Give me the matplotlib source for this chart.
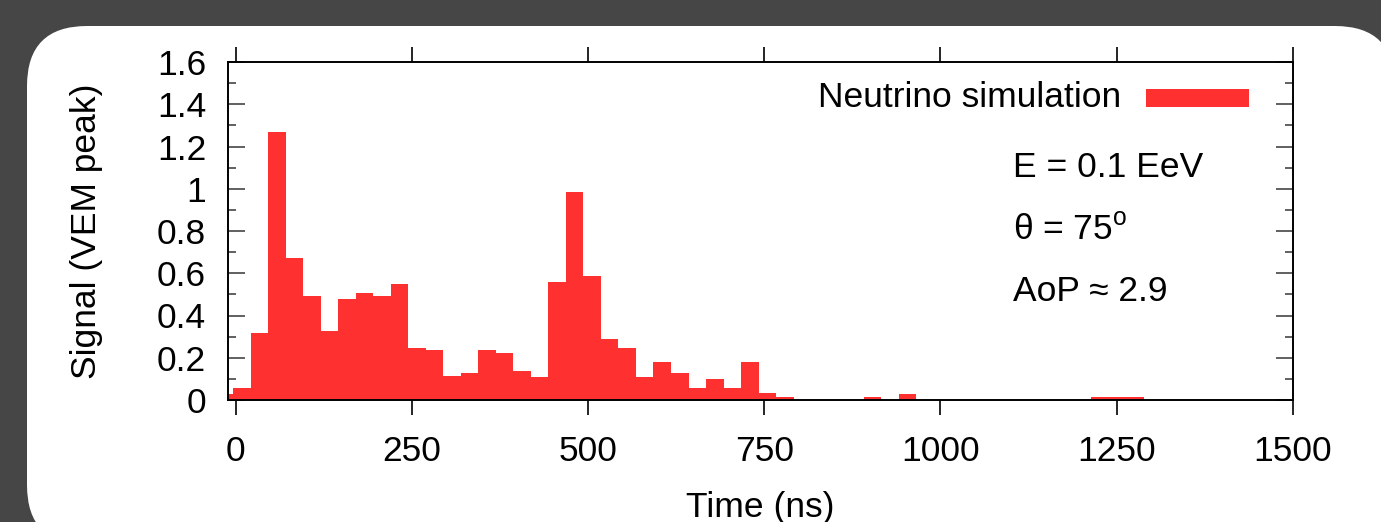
import numpy as np
import matplotlib
matplotlib.use("Agg")
import matplotlib.pyplot as plt
from matplotlib.patches import FancyBboxPatch, Rectangle
from matplotlib.ticker import MultipleLocator

plt.rcParams["font.family"] = ["Liberation Sans", "DejaVu Sans"]
plt.rcParams["mathtext.fontset"] = "custom"
plt.rcParams["mathtext.rm"] = "Liberation Sans"

# histogram: bins of ~25 ns, first bin starts before 0
bin_start = -28.35
bin_width = 24.85
signal = [0.03, 0.055, 0.316, 1.27, 0.67, 0.494, 0.328, 0.478, 0.506, 0.494,
          0.549, 0.248, 0.235, 0.112, 0.126, 0.237, 0.221, 0.139, 0.11, 0.56,
          0.986, 0.589, 0.289, 0.248, 0.11, 0.178, 0.126, 0.055, 0.099, 0.055,
          0.178, 0.031, 0.014, 0, 0, 0, 0, 0.015, 0, 0.03,
          0, 0, 0, 0, 0, 0, 0, 0, 0, 0,
          0.015, 0.015, 0.015]
x_ticks = [0, 250, 500, 750, 1000, 1250, 1500]
y_ticks = [0, 0.2, 0.4, 0.6, 0.8, 1, 1.2, 1.4, 1.6]
y_tick_labels = ["0", "0.2", "0.4", "0.6", "0.8", "1", "1.2", "1.4", "1.6"]
legend_label = "Neutrino simulation"
info_lines = ["E = 0.1 EeV", r"θ = 75$^\mathrm{o}$", "AoP ≈ 2.9"]

RED = "#ff3030"
FS = 25.5

fig = plt.figure(figsize=(13.81, 5.22), dpi=100)
fig.patch.set_facecolor("#464646")
panel = FancyBboxPatch((27, -23), 1368, 519, boxstyle="round,pad=0,rounding_size=60",
                       transform=None, facecolor="white", edgecolor="none", zorder=-10)
fig.add_artist(panel)

ax = fig.add_axes([228.3 / 1381, 122 / 522, 1064.4 / 1381, 338 / 522])
ax.set_facecolor("none")
lefts = bin_start + bin_width * np.arange(len(signal))
ax.bar(lefts, signal, width=bin_width, align="edge", color=RED, linewidth=0)

ax.set_xlim(-10.5, 1500)
ax.set_ylim(0, 1.6)
ax.set_xticks(x_ticks)
ax.set_yticks(y_ticks)
ax.set_yticklabels(y_tick_labels)
ax.yaxis.set_minor_locator(MultipleLocator(0.1))

for s in ax.spines.values():
    s.set_linewidth(1.4)
    s.set_color("black")

ax.tick_params(axis="x", which="major", direction="out", top=True, bottom=True,
               length=11, width=1.2, color="black", labelsize=FS, pad=14)
ax.tick_params(axis="y", which="major", direction="in", left=True, right=True,
               length=12, width=1.4, color="#606060", labelsize=FS, pad=16)
ax.tick_params(axis="y", which="minor", direction="in", left=True, right=True,
               length=6, width=1.4, color="#606060")

ax.set_xlabel("Time (ns)", fontsize=FS, labelpad=17)
ax.set_ylabel("Signal (VEM peak)", fontsize=FS, labelpad=39)

# legend drawn by hand, gnuplot style
ax.text(0.839, 0.894, legend_label, transform=ax.transAxes, ha="right", va="center", fontsize=FS)
ax.add_patch(Rectangle((0.862, 0.868), 0.097, 0.053, transform=ax.transAxes,
                       facecolor=RED, edgecolor="none", clip_on=False))

for i, line in enumerate(info_lines):
    ax.text(0.737, 0.688 - i * 0.183, line, transform=ax.transAxes, ha="left",
            va="center", fontsize=FS)

fig.savefig("out.png", dpi=100, facecolor=fig.get_facecolor())
